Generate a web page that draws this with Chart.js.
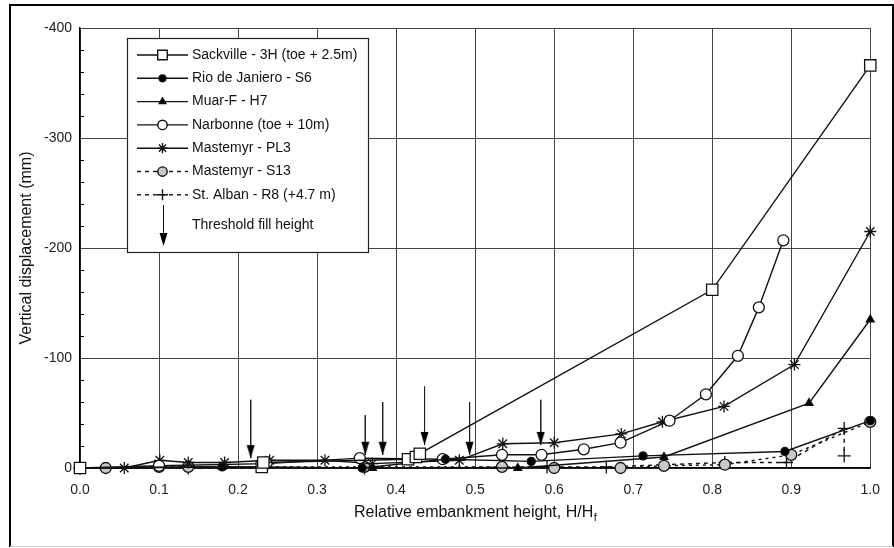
<!DOCTYPE html>
<html>
<head>
<meta charset="utf-8">
<script src="https://cdn.jsdelivr.net/npm/chart.js@4.4.1/dist/chart.umd.min.js"></script>
<style>
  html, body { margin: 0; padding: 0; background: #fff; }
  #wrap { width: 894px; height: 548px; position: relative; }
</style>
</head>
<body>
<div id="wrap"><canvas id="chart" width="894" height="548"></canvas></div>
<script>
// values (H/Hf, displacement in mm)
const sackX = [0.0, 0.23, 0.232, 0.415, 0.425, 0.43, 0.8, 1.0];
const sackY = [0, -1, -5, -8, -10, -13, -162, -366];

const rioX = [0.0, 0.18, 0.357, 0.4625, 0.571, 0.7125, 0.892, 1.0];
const rioY = [0, -1, 0, -8, -6, -11, -15, -43];

const muarX = [0.0, 0.18, 0.37, 0.554, 0.739, 0.9225, 1.0];
const muarY = [0, -1, 0, 0, -10, -59, -135];

const narbX = [0.0, 0.1, 0.236, 0.354, 0.459, 0.534, 0.584, 0.6375, 0.684, 0.746, 0.792, 0.8325, 0.859, 0.89];
const narbY = [0, -2, -4, -9, -8, -12, -12, -17, -23, -43, -67, -102, -146, -207];

const pl3X = [0.056, 0.101, 0.137, 0.183, 0.24, 0.31, 0.37, 0.48, 0.535, 0.6, 0.685, 0.737, 0.815, 0.904, 1.0];
const pl3Y = [0, -7, -5, -5, -7, -7, -4, -7, -22, -23, -31, -42, -56, -94, -215];

const s13X = [0.0, 0.0325, 0.1, 0.137, 0.36, 0.534, 0.6, 0.684, 0.739, 0.816, 0.9, 1.0];
const s13Y = [0, 0, -1, -1, -1, -1, 0, 0, -2, -3, -12, -42];

const albanX = [0.0, 0.137, 0.36, 0.591, 0.666, 0.816, 0.894, 0.967, 0.967];
const albanY = [0, 0, 0, -1, -1, -5, -5, -36, -11];

// threshold fill height arrows
const threshX = [0.216, 0.361, 0.383, 0.436, 0.493, 0.583];
const threshTop = [-62, -48, -60, -74, -60, -62];
const threshTip = [-9, -12, -12, -21, -12, -21];

const seriesNames = ['Sackville - 3H (toe + 2.5m)', 'Rio de Janiero - S6', 'Muar-F - H7',
  'Narbonne (toe + 10m)', 'Mastemyr - PL3', 'Mastemyr - S13', 'St. Alban - R8 (+4.7 m)'];
const thresholdLabel = 'Threshold fill height';
const xTitle = 'Relative embankment height, H/H';
const xTitleSub = 'f';
const yTitle = 'Vertical displacement (mm)';

const FONT = '"Liberation Sans", Arial, sans-serif';

function pts(xs, ys) {
  return xs.map((x, i) => ({ x: x, y: ys[i] }));
}

// arrow head image, tip sits at the image centre
function arrowHead() {
  const c = document.createElement('canvas');
  c.width = 9; c.height = 28;
  const g = c.getContext('2d');
  g.fillStyle = '#000';
  g.beginPath();
  g.moveTo(0.5, 1); g.lineTo(8.5, 1); g.lineTo(4.5, 14); g.closePath();
  g.fill();
  return c;
}
const headImg = arrowHead();

const arrowData = [];
threshX.forEach((x, i) => {
  arrowData.push({ x: x, y: threshTop[i] });
  arrowData.push({ x: x, y: threshTip[i] });
  arrowData.push({ x: x, y: null });
});

const styles = [
  { pointStyle: 'rect', radius: 8, bg: '#fff', dash: [] },
  { pointStyle: 'circle', radius: 4, bg: '#000', dash: [] },
  { pointStyle: 'triangle', radius: 4.5, bg: '#000', dash: [] },
  { pointStyle: 'circle', radius: 5.5, bg: '#fff', dash: [] },
  { pointStyle: 'star', radius: 6, bg: '#000', dash: [] },
  { pointStyle: 'circle', radius: 5.5, bg: '#c8c8c8', dash: [3, 4] },
  { pointStyle: 'cross', radius: 6.5, bg: '#000', dash: [4, 4] }
];
const seriesData = [pts(sackX, sackY), pts(rioX, rioY), pts(muarX, muarY), pts(narbX, narbY),
  pts(pl3X, pl3Y), pts(s13X, s13Y), pts(albanX, albanY)];

const datasets = seriesData.map((d, i) => ({
  label: seriesNames[i],
  data: d,
  borderColor: '#111',
  borderWidth: 1.4,
  borderDash: styles[i].dash,
  pointStyle: styles[i].pointStyle,
  pointRadius: styles[i].radius,
  pointBackgroundColor: styles[i].bg,
  pointBorderColor: '#111',
  pointBorderWidth: 1.3,
  showLine: true,
  clip: false
}));

datasets.push({
  label: thresholdLabel,
  data: arrowData,
  borderColor: '#222',
  borderWidth: 1,
  showLine: true,
  spanGaps: false,
  pointStyle: headImg,
  pointRadius: ctx => (ctx.dataIndex % 3 === 1 ? 5 : 0),
  clip: false
});

const framePlugin = {
  id: 'frame',
  beforeDraw(chart) {
    const ctx = chart.ctx;
    ctx.save();
    ctx.fillStyle = '#fff';
    ctx.fillRect(0, 0, chart.width, chart.height);
    ctx.strokeStyle = '#000';
    ctx.lineWidth = 2;
    ctx.beginPath();
    ctx.moveTo(10, 547); ctx.lineTo(10, 5); ctx.lineTo(893, 5); ctx.lineTo(893, 547);
    ctx.stroke();
    ctx.strokeStyle = '#ccc';
    ctx.lineWidth = 1;
    ctx.beginPath();
    ctx.moveTo(10, 546.5); ctx.lineTo(893, 546.5);
    ctx.stroke();
    ctx.restore();
  },
  afterDraw(chart) {
    const ctx = chart.ctx;
    const a = chart.chartArea;
    const ys = chart.scales.y;
    ctx.save();
    // minor ticks on the y axis
    ctx.strokeStyle = '#000';
    ctx.lineWidth = 1;
    for (let v = ys.min; v < ys.max; v += 20) {
      if (v % 100 === 0) continue;
      const py = Math.round(ys.getPixelForValue(v)) + 0.5;
      ctx.beginPath();
      ctx.moveTo(a.left, py); ctx.lineTo(a.left + 4, py);
      ctx.stroke();
    }
    // axis titles
    ctx.fillStyle = '#111';
    ctx.font = '16px ' + FONT;
    ctx.textBaseline = 'middle';
    const w = ctx.measureText(xTitle).width;
    ctx.font = '11px ' + FONT;
    const ws = ctx.measureText(xTitleSub).width;
    const cx = (a.left + a.right) / 2;
    const tx = cx - (w + ws) / 2;
    ctx.font = '16px ' + FONT;
    ctx.textAlign = 'left';
    ctx.fillText(xTitle, tx, a.bottom + 45);
    ctx.font = '11px ' + FONT;
    ctx.fillText(xTitleSub, tx + w + 0.5, a.bottom + 50);
    ctx.translate(27, (a.top + a.bottom) / 2);
    ctx.rotate(-Math.PI / 2);
    ctx.font = '16px ' + FONT;
    ctx.textAlign = 'center';
    ctx.fillText(yTitle, 0, 0);
    ctx.restore();

    // legend box
    ctx.save();
    const bx = a.left + 47, by = a.top + 10, bw = 241, bh = 214;
    ctx.fillStyle = '#fff';
    ctx.fillRect(bx, by, bw, bh);
    ctx.strokeStyle = '#222';
    ctx.lineWidth = 1.2;
    ctx.strokeRect(bx + 0.5, by + 0.5, bw, bh);
    ctx.font = '14px ' + FONT;
    ctx.textBaseline = 'middle';
    ctx.textAlign = 'left';
    const rowH = 23.3;
    seriesNames.forEach((name, i) => {
      const ry = by + 17 + i * rowH;
      const x0 = bx + 10, x1 = bx + 61, xm = (x0 + x1) / 2;
      ctx.strokeStyle = '#111';
      ctx.lineWidth = 1.4;
      ctx.setLineDash(styles[i].dash.length ? [4, 4] : []);
      ctx.beginPath();
      ctx.moveTo(x0, ry); ctx.lineTo(x1, ry);
      ctx.stroke();
      ctx.setLineDash([]);
      ctx.fillStyle = styles[i].bg;
      ctx.strokeStyle = '#111';
      Chart.helpers.drawPoint(ctx, {
        pointStyle: styles[i].pointStyle,
        radius: styles[i].radius * 0.85,
        rotation: 0,
        borderWidth: 1.3
      }, xm, ry);
      ctx.fillStyle = '#111';
      ctx.fillText(name, bx + 65, ry);
    });
    // threshold legend entry
    const ax = bx + 36;
    ctx.strokeStyle = '#111';
    ctx.lineWidth = 1;
    ctx.beginPath();
    ctx.moveTo(ax + 0.5, by + 167); ctx.lineTo(ax + 0.5, by + 200);
    ctx.stroke();
    ctx.drawImage(headImg, ax + 0.5 - headImg.width / 2, by + 208 - headImg.height / 2);
    ctx.fillStyle = '#111';
    ctx.fillText(thresholdLabel, bx + 65, by + 187);
    ctx.restore();
  }
};

new Chart(document.getElementById('chart'), {
  type: 'scatter',
  data: { datasets: datasets },
  options: {
    responsive: false,
    animation: false,
    devicePixelRatio: 1,
    layout: { padding: { left: 0, top: 28, right: 14, bottom: 0 } },
    plugins: { legend: { display: false }, tooltip: { enabled: false } },
    scales: {
      x: {
        type: 'linear',
        min: 0, max: 1,
        afterFit: s => { s.height = 80; },
        ticks: {
          stepSize: 0.1,
          padding: 14,
          color: '#222',
          font: { family: FONT, size: 14 },
          callback: v => Number(v).toFixed(1)
        },
        grid: { color: '#444', lineWidth: 1, drawTicks: false },
        border: { color: '#000', width: 1.5 }
      },
      y: {
        type: 'linear',
        min: -400, max: 0,
        reverse: true,
        afterFit: s => { s.width = 80; },
        ticks: {
          stepSize: 100,
          padding: 8,
          color: '#222',
          font: { family: FONT, size: 14 }
        },
        grid: { color: '#444', lineWidth: 1, drawTicks: false },
        border: { color: '#000', width: 1.5 }
      }
    }
  },
  plugins: [framePlugin]
});
</script>
</body>
</html>
